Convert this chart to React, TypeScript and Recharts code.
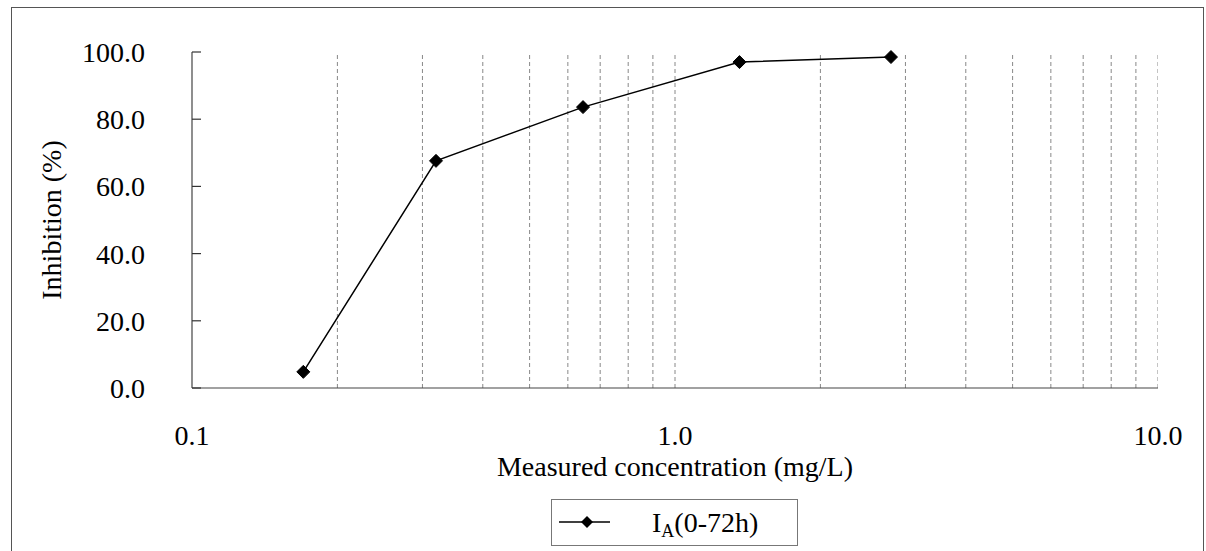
import React from "react";
import { LineChart, Line, XAxis, YAxis, ReferenceLine, Legend, Label } from "recharts";

const concentrations = [0.17, 0.32, 0.645, 1.36, 2.8];
const inhibition = [4.8, 67.6, 83.6, 97.0, 98.5];
const xTicks = [0.1, 1, 10];
const xTickLabels = ["0.1", "1.0", "10.0"];
const yTicks = [0, 20, 40, 60, 80, 100];
const gridValues = [0.2, 0.3, 0.4, 0.5, 0.6, 0.7, 0.8, 0.9, 1, 2, 3, 4, 5, 6, 7, 8, 9, 10];
const seriesName = "IA(0-72h)";

const data = concentrations.map((c, i) => ({ x: c, y: inhibition[i] }));

const FONT = "'Liberation Serif', 'Times New Roman', serif";
const FS = 28;

const XTick = (props: any) => {
  const { x, y, payload } = props;
  const idx = xTicks.indexOf(payload.value);
  const label = idx >= 0 ? xTickLabels[idx] : String(payload.value);
  return (
    <text x={x} y={y + 57} textAnchor="middle" fontFamily={FONT} fontSize={FS} fill="#000">
      {label}
    </text>
  );
};

const YTick = (props: any) => {
  const { x, y, payload } = props;
  return (
    <g>
      <line x1={x} x2={x + 9} y1={y} y2={y} stroke="#333" strokeWidth={1.2} />
      <text x={x - 47} y={y + 10} textAnchor="end" fontFamily={FONT} fontSize={FS} fill="#000">
        {Number(payload.value).toFixed(1)}
      </text>
    </g>
  );
};

const Diamond = (props: any) => {
  const { cx, cy, index } = props;
  if (cx == null || cy == null) return null;
  const r = 6.5;
  return (
    <path
      key={`d-${index}`}
      d={`M${cx},${cy - r} L${cx + r},${cy} L${cx},${cy + r} L${cx - r},${cy} Z`}
      fill="#000"
      stroke="#000"
    />
  );
};

const LegendBox = () => (
  <div
    style={{
      width: 247,
      height: 47,
      border: "1px solid #777",
      boxSizing: "border-box",
      background: "#fff",
    }}
  >
    <svg width={245} height={45} style={{ display: "block" }}>
      <line x1={7} x2={58} y1={22} y2={22} stroke="#000" strokeWidth={1.5} />
      <path d="M35,16 L41,22 L35,28 L29,22 Z" fill="#000" />
      <text x={100} y={32} fontFamily={FONT} fontSize={FS} fill="#000">
        I
        <tspan fontSize={18} dy={5}>A</tspan>
        <tspan dy={-5}>(0-72h)</tspan>
      </text>
    </svg>
  </div>
);

export default function App() {
  return (
    <div style={{ position: "absolute", left: 0, top: 0, width: 1206, height: 551, background: "#fff", overflow: "hidden" }}>
      <div
        style={{
          position: "absolute",
          left: 11,
          top: 7,
          width: 1193,
          height: 570,
          border: "1px solid #555",
          boxSizing: "border-box",
        }}
      />
      <div style={{ position: "absolute", left: 0, top: 0 }}>
        <LineChart width={1206} height={551} data={data} margin={{ top: 52, right: 48, bottom: 0, left: 0 }}>
          <XAxis
            dataKey="x"
            type="number"
            scale="log"
            domain={[0.1, 10]}
            allowDataOverflow
            ticks={xTicks}
            tick={<XTick />}
            tickLine={false}
            tickSize={0}
            tickMargin={0}
            axisLine={{ stroke: "#444", strokeWidth: 1.2 }}
            height={163}
            interval={0}
          >
            <Label
              content={(p: any) => {
                const vb = p.viewBox || {};
                return (
                  <text
                    x={vb.x + vb.width / 2}
                    y={vb.y + 88}
                    textAnchor="middle"
                    fontFamily={FONT}
                    fontSize={FS}
                    fill="#000"
                  >
                    Measured concentration (mg/L)
                  </text>
                );
              }}
            />
          </XAxis>
          <YAxis
            type="number"
            domain={[0, 100]}
            ticks={yTicks}
            tick={<YTick />}
            tickLine={false}
            tickSize={0}
            tickMargin={0}
            axisLine={{ stroke: "#444", strokeWidth: 1.2 }}
            width={192}
            interval={0}
          >
            <Label
              content={(p: any) => {
                const vb = p.viewBox || {};
                const cy = vb.y + vb.height / 2;
                return (
                  <text
                    x={51}
                    y={cy}
                    transform={`rotate(-90, 51, ${cy})`}
                    textAnchor="middle"
                    dominantBaseline="central"
                    fontFamily={FONT}
                    fontSize={FS}
                    fill="#000"
                  >
                    Inhibition (%)
                  </text>
                );
              }}
            />
          </YAxis>
          {gridValues.map((g) => (
            <ReferenceLine key={g} x={g} stroke="#888" strokeWidth={1} strokeDasharray="4 3" ifOverflow="hidden" />
          ))}
          <Line
            type="linear"
            dataKey="y"
            name={seriesName}
            stroke="#000"
            strokeWidth={1.5}
            dot={<Diamond />}
            activeDot={false}
            isAnimationActive={false}
          />
          <Legend
            layout="horizontal"
            verticalAlign="middle"
            align="center"
            content={<LegendBox />}
            wrapperStyle={{ left: 551, top: 499, width: 247, height: 47 }}
          />
        </LineChart>
      </div>
    </div>
  );
}
